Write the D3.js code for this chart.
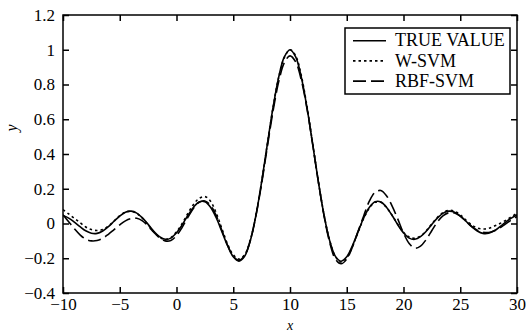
<!DOCTYPE html>
<html><head><meta charset="utf-8">
<script src="https://cdn.jsdelivr.net/npm/d3@7"></script>
<style>body{margin:0;background:#fff}svg{display:block}</style>
</head><body><svg id="c" width="530" height="333"></svg>
<script>
const xValues = d3.range(81).map(i => -10 + 0.5 * i);
const trueValue = [0.046,0.031,0.008,-0.018,-0.042,-0.056,-0.057,-0.043,-0.018,0.013,
0.043,0.065,0.071,0.060,0.032,-0.005,-0.045,-0.076,-0.091,-0.084,
-0.054,-0.008,0.046,0.094,0.124,0.125,0.094,0.033,-0.047,-0.128,
-0.192,-0.217,-0.189,-0.100,0.047,0.239,0.455,0.665,0.841,0.959,
1.000,0.959,0.841,0.665,0.455,0.239,0.047,-0.100,-0.189,-0.217,
-0.192,-0.128,-0.047,0.033,0.094,0.125,0.124,0.094,0.046,-0.008,
-0.054,-0.084,-0.091,-0.076,-0.045,-0.005,0.032,0.060,0.071,0.065,
0.043,0.013,-0.018,-0.043,-0.057,-0.056,-0.042,-0.018,0.008,0.031,0.050];
const wSvm = [0.080,0.055,0.030,0.005,-0.020,-0.035,-0.040,-0.035,-0.015,0.015,
0.045,0.065,0.070,0.058,0.030,-0.008,-0.048,-0.078,-0.092,-0.082,
-0.048,0.000,0.058,0.110,0.145,0.155,0.128,0.060,-0.030,-0.118,
-0.180,-0.205,-0.180,-0.095,0.050,0.240,0.455,0.665,0.840,0.955,
1.000,0.965,0.850,0.672,0.460,0.242,0.050,-0.098,-0.190,-0.222,
-0.198,-0.132,-0.050,0.030,0.090,0.122,0.122,0.093,0.047,-0.005,
-0.050,-0.078,-0.085,-0.072,-0.042,-0.002,0.036,0.064,0.076,0.070,
0.050,0.020,-0.008,-0.026,-0.032,-0.028,-0.015,0.000,0.018,0.038,0.060];
const rbfSvm = [0.050,0.010,-0.030,-0.065,-0.090,-0.100,-0.098,-0.085,-0.062,-0.035,
-0.008,0.015,0.028,0.030,0.015,-0.015,-0.050,-0.082,-0.100,-0.098,
-0.070,-0.022,0.035,0.088,0.122,0.130,0.105,0.045,-0.040,-0.125,
-0.188,-0.212,-0.185,-0.098,0.045,0.230,0.440,0.645,0.815,0.925,
0.965,0.930,0.825,0.660,0.455,0.240,0.045,-0.110,-0.205,-0.232,
-0.205,-0.135,-0.045,0.045,0.130,0.180,0.190,0.160,0.100,0.025,
-0.055,-0.115,-0.142,-0.130,-0.092,-0.040,0.010,0.045,0.062,0.060,
0.042,0.014,-0.016,-0.038,-0.050,-0.052,-0.042,-0.025,-0.002,0.020,0.040];
const xTicks = [-10,-5,0,5,10,15,20,25,30];
const yTicks = [-0.4,-0.2,0,0.2,0.4,0.6,0.8,1,1.2];
const seriesNames = ["TRUE VALUE","W-SVM","RBF-SVM"];
const seriesData = [trueValue, wSvm, rbfSvm];
const dashes = [null, "2.5,3", "13,5"];

const svg = d3.select("#c");
const L=63, R=517, T=15, B=293;
const x = d3.scaleLinear().domain([-10,30]).range([L,R]);
const y = d3.scaleLinear().domain([-0.4,1.2]).range([B,T]);
const font = "'Liberation Serif','Times New Roman',serif";
const fmt = v => { let s = d3.format("~g")(+v.toFixed(2)); return s.replace("-", "\u2212"); };

svg.append("clipPath").attr("id","clp").append("rect")
  .attr("x",L).attr("y",T).attr("width",R-L).attr("height",B-T);

const line = d3.line().x((d,i)=>x(xValues[i])).y(d=>y(d)).curve(d3.curveCatmullRom);
seriesData.forEach((s,k)=>{
  svg.append("path").datum(s).attr("d",line).attr("fill","none")
    .attr("stroke","#000").attr("stroke-width",1.6)
    .attr("stroke-dasharray",dashes[k]).attr("clip-path","url(#clp)");
});

const ax = (g,a)=>g.call(a).call(g=>g.select(".domain").remove());
svg.append("g").attr("transform",`translate(0,${B})`)
  .call(g=>ax(g,d3.axisBottom(x).tickValues(xTicks).tickSize(-6).tickPadding(5).tickFormat(fmt)));
svg.append("g").attr("transform",`translate(0,${T})`)
  .call(g=>ax(g,d3.axisTop(x).tickValues(xTicks).tickSize(-6).tickFormat("")));
svg.append("g").attr("transform",`translate(${L},0)`)
  .call(g=>ax(g,d3.axisLeft(y).tickValues(yTicks).tickSize(-6).tickPadding(8).tickFormat(fmt)));
svg.append("g").attr("transform",`translate(${R},0)`)
  .call(g=>ax(g,d3.axisRight(y).tickValues(yTicks).tickSize(-6).tickFormat("")));
svg.selectAll(".tick line").attr("stroke","#000").attr("stroke-width",1.5);
svg.selectAll(".tick text").attr("font-family",font).attr("font-size",17).attr("fill","#000");

svg.append("rect").attr("x",L).attr("y",T).attr("width",R-L).attr("height",B-T)
  .attr("fill","none").attr("stroke","#000").attr("stroke-width",1.5);

svg.append("text").attr("x",x(10)).attr("y",330).attr("text-anchor","middle")
  .attr("font-family",font).attr("font-style","italic").attr("font-size",14).text("x");
svg.append("text").attr("transform","translate(17,128) rotate(-90)").attr("text-anchor","middle")
  .attr("font-family",font).attr("font-style","italic").attr("font-size",16).text("y");

const lg = svg.append("g");
lg.append("rect").attr("x",345).attr("y",28).attr("width",165).attr("height",66)
  .attr("fill","#fff").attr("stroke","#000").attr("stroke-width",1.5);
seriesNames.forEach((n,k)=>{
  const cy = 40.7 + k*20.2;
  lg.append("line").attr("x1",353).attr("x2",386).attr("y1",cy).attr("y2",cy)
    .attr("stroke","#000").attr("stroke-width",1.6).attr("stroke-dasharray",dashes[k]);
  lg.append("text").attr("x",395).attr("y",cy+5.6).attr("font-family",font)
    .attr("font-size",18).text(n);
});
</script></body></html>
